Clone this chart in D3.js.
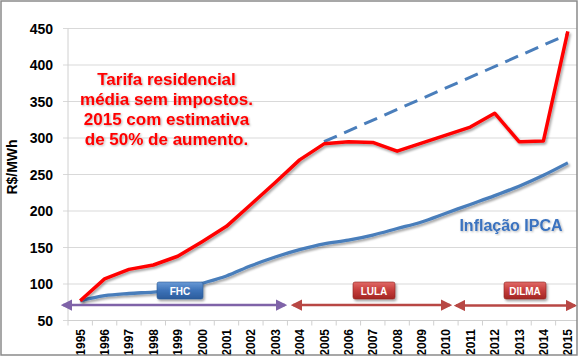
<!DOCTYPE html>
<html><head><meta charset="utf-8">
<script src="https://cdn.jsdelivr.net/npm/d3@7"></script>
<style>body{margin:0;background:#fff}svg{display:block}text{font-family:"Liberation Sans",Arial,sans-serif}</style>
</head><body>
<svg id="c" width="580" height="357"></svg>
<script>
const years = ["1995","1996","1997","1998","1999","2000","2001","2002","2003","2004","2005","2006","2007","2008","2009","2010","2011","2012","2013","2014","2015"];
const tarifa = [77,107,120,126,138,158,179,209,239,270,292,295,294,282,293,304,315,334,295,296,446];
const ipca = [77,84,87,89,92,101,111,125,137,147,155,160,167,176,185,197,209,221,234,249,266];
const tendYears = ["2005","2015"];
const tendValues = [295,442];
const yTicks = [50,100,150,200,250,300,350,400,450];
const noteLines = ["Tarifa residencial","média sem impostos.","2015 com estimativa","de 50% de aumento."];
const periodNames = ["FHC","LULA","DILMA"];

const svg = d3.select("#c");
const defs = svg.append("defs");
const sh = defs.append("filter").attr("id","sh").attr("x","-10%").attr("y","-10%").attr("width","130%").attr("height","130%");
sh.append("feDropShadow").attr("dx",1.5).attr("dy",2).attr("stdDeviation",1).attr("flood-color","#000").attr("flood-opacity",0.35);
const tsh = defs.append("filter").attr("id","tsh");
tsh.append("feDropShadow").attr("dx",1).attr("dy",1).attr("stdDeviation",0.8).attr("flood-color","#000").attr("flood-opacity",0.3);
const gb = defs.append("linearGradient").attr("id","gb").attr("x1",0).attr("y1",0).attr("x2",0).attr("y2",1);
gb.append("stop").attr("offset",0).attr("stop-color","#6a9ad6");
gb.append("stop").attr("offset",0.5).attr("stop-color","#3c72b8");
gb.append("stop").attr("offset",1).attr("stop-color","#2b5c9c");
const gr = defs.append("linearGradient").attr("id","gr").attr("x1",0).attr("y1",0).attr("x2",0).attr("y2",1);
gr.append("stop").attr("offset",0).attr("stop-color","#e06a67");
gr.append("stop").attr("offset",0.5).attr("stop-color","#c43c3a");
gr.append("stop").attr("offset",1).attr("stop-color","#a32624");
function marker(id,color){
  const m = defs.append("marker").attr("id",id).attr("viewBox","0 0 10 10").attr("refX",8).attr("refY",5)
    .attr("markerWidth",4.5).attr("markerHeight",4.5).attr("orient","auto-start-reverse").attr("markerUnits","strokeWidth");
  m.append("path").attr("d","M0,0 L10,5 L0,10 Z").attr("fill",color);
}
marker("ap","#7f63a8");
marker("ar","#b84744");

const x = d3.scaleBand().domain(years).range([68,580]).padding(0);
const y = d3.scaleLinear().domain([50,450]).range([320.5,28.5]);
const cx = d => x(d) + x.bandwidth()/2;

// gridlines
svg.append("g").selectAll("line").data(yTicks).join("line")
  .attr("x1",63).attr("x2",577).attr("y1",d=>y(d)).attr("y2",d=>y(d))
  .attr("stroke","#d9d9d9").attr("stroke-width",1);

// y axis
svg.append("line").attr("x1",68).attr("x2",68).attr("y1",y(450)).attr("y2",y(50)).attr("stroke","#d0d0d0");
svg.append("g").selectAll("text").data(yTicks).join("text")
  .attr("x",53).attr("y",d=>y(d)).attr("dy","0.36em").attr("text-anchor","end")
  .attr("font-size",14).attr("font-weight","bold").attr("fill","#000").text(d=>d);
svg.append("text").attr("transform","translate(17,167) rotate(-90)").attr("text-anchor","middle")
  .attr("font-size",14).attr("font-weight","bold").text("R$/MWh");

// x axis
svg.append("line").attr("x1",68).attr("x2",577).attr("y1",y(50)).attr("y2",y(50)).attr("stroke","#d0d0d0");
svg.append("g").selectAll("line").data(years).join("line")
  .attr("x1",d=>x(d)).attr("x2",d=>x(d))
  .attr("y1",y(50)).attr("y2",y(50)+5).attr("stroke","#d0d0d0");
svg.append("g").selectAll("text").data(years).join("text")
  .attr("transform",d=>`translate(${cx(d)+4.5},329) rotate(-90)`).attr("text-anchor","end")
  .attr("font-size",12).attr("font-weight","bold").text(d=>d);

// lines
const lineStraight = d3.line().x((d,i)=>cx(years[i])).y(d=>y(d));
const lineSmooth = d3.line().x((d,i)=>cx(years[i])).y(d=>y(d)).curve(d3.curveMonotoneX);
svg.append("path").attr("d",lineSmooth(ipca)).attr("fill","none").attr("stroke","#4a7ebb")
  .attr("stroke-width",3.3).attr("stroke-linejoin","round").attr("filter","url(#sh)");
svg.append("path").attr("d",d3.line().x((d,i)=>cx(tendYears[i])).y(d=>y(d))(tendValues))
  .attr("fill","none").attr("stroke","#4a7ebb").attr("stroke-width",3).attr("stroke-dasharray","14,8");
svg.append("path").attr("d",lineStraight(tarifa)).attr("fill","none").attr("stroke","#ff0000")
  .attr("stroke-width",3.5).attr("stroke-linejoin","round").attr("filter","url(#sh)");

// annotation
svg.append("text").attr("text-anchor","middle").attr("font-size",17).attr("font-weight","bold")
  .attr("fill","#ff0000").attr("filter","url(#tsh)")
  .selectAll("tspan").data(noteLines).join("tspan").attr("x",166.5).attr("y",(d,i)=>84.5+i*20).text(d=>d);
svg.append("text").attr("x",511).attr("y",231).attr("text-anchor","middle").attr("font-size",16)
  .attr("font-weight","bold").attr("fill","#3a72bf").attr("filter","url(#tsh)").text("Inflação IPCA");

// period arrows
const arrowY = 305;
svg.append("line").attr("x1",63).attr("x2",285).attr("y1",arrowY).attr("y2",arrowY)
  .attr("stroke","#7f63a8").attr("stroke-width",2.5).attr("marker-start","url(#ap)").attr("marker-end","url(#ap)");
svg.append("line").attr("x1",293).attr("x2",450).attr("y1",arrowY).attr("y2",arrowY)
  .attr("stroke","#b84744").attr("stroke-width",2.5).attr("marker-start","url(#ar)").attr("marker-end","url(#ar)");
svg.append("line").attr("x1",456).attr("x2",575).attr("y1",arrowY+0.5).attr("y2",arrowY+0.5)
  .attr("stroke","#b84744").attr("stroke-width",2.5).attr("marker-start","url(#ar)").attr("marker-end","url(#ar)");

// period boxes
const boxes = [
  {name:periodNames[0], cx:180, w:46, fill:"url(#gb)", stroke:"#2b5a94"},
  {name:periodNames[1], cx:374, w:42, fill:"url(#gr)", stroke:"#8e2422"},
  {name:periodNames[2], cx:525, w:42, fill:"url(#gr)", stroke:"#8e2422"}
];
const bg = svg.append("g").selectAll("g").data(boxes).join("g");
bg.append("rect").attr("x",d=>d.cx-d.w/2).attr("y",282).attr("width",d=>d.w).attr("height",17).attr("rx",2)
  .attr("fill",d=>d.fill).attr("stroke",d=>d.stroke).attr("stroke-width",0.6).attr("filter","url(#sh)");
bg.append("text").attr("x",d=>d.cx).attr("y",294.5).attr("text-anchor","middle").attr("font-size",10)
  .attr("font-weight","bold").attr("fill","#fff").text(d=>d.name);

// outer border
svg.append("rect").attr("x",1).attr("y",1).attr("width",576).attr("height",354).attr("fill","none")
  .attr("stroke","#8a8a8a").attr("stroke-width",1.5);
</script>
</body></html>
